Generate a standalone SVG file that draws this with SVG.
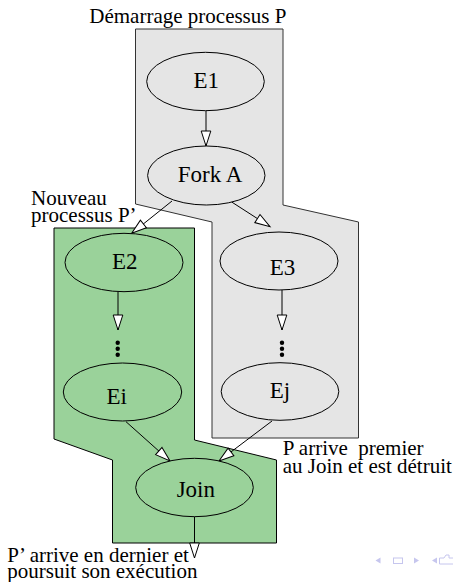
<svg xmlns="http://www.w3.org/2000/svg" width="453" height="582" viewBox="0 0 453 582">
<style>
text{font-family:'Liberation Serif','DejaVu Serif',serif;fill:#000}
.lbl{font-size:23px;text-anchor:middle}
.ann{font-size:21px;white-space:pre}
.node{stroke:#000;stroke-width:1}
.gn{fill:#9ad29a}
.gy{fill:#e5e5e5}
.edge{stroke:#000;stroke-width:1;fill:none;marker-end:url(#arr)}
.nav{fill:#c6c6ee}
</style>
<defs>
<marker id="arr" markerUnits="userSpaceOnUse" markerWidth="18" markerHeight="12" refX="16" refY="6" orient="auto">
<path d="M1,1.2 L16,6 L1,10.8 Z" fill="#fff" stroke="#000" stroke-width="1"/>
</marker>
</defs>
<g id="clusterP">
<polygon points="135.5,29 283,29 283,205 358.5,222 358.5,438 212,438 212,222 135.5,204" fill="#e5e5e5" stroke="#333" stroke-width="1"/>
</g>
<g id="clusterPprime">
<polygon points="54,228 194.5,228 194.5,440 276.5,460 276.5,543 112.5,543 112.5,460 54,439" fill="#9ad29a" stroke="#000" stroke-width="1"/>
</g>
<g id="edges">
<line class="edge" x1="206" y1="110.7" x2="206" y2="146"/>
<line class="edge" x1="172" y1="201" x2="131.7" y2="233.3"/>
<line class="edge" x1="231.7" y1="202" x2="270" y2="226.7"/>
<line class="edge" x1="118" y1="291.7" x2="118" y2="330"/>
<line class="edge" x1="282" y1="290" x2="282" y2="330"/>
<line class="edge" x1="126" y1="421.7" x2="170" y2="461"/>
<line class="edge" x1="272" y1="421" x2="219" y2="461"/>
<line class="edge" x1="194.5" y1="516.7" x2="194.5" y2="558"/>
</g>
<g id="E1"><ellipse class="node gy" cx="205.5" cy="81.5" rx="58.8" ry="29.2"/><text class="lbl" x="206.3" y="88.3">E1</text></g>
<g id="ForkA"><ellipse class="node gy" cx="206.3" cy="175.5" rx="58.7" ry="29.5"/><text class="lbl" x="210" y="181.7">Fork A</text></g>
<g id="E2"><ellipse class="node gn" cx="124" cy="262.5" rx="59" ry="29.2"/><text class="lbl" x="124.8" y="269">E2</text></g>
<g id="E3"><ellipse class="node gy" cx="279" cy="261" rx="59" ry="29"/><text class="lbl" x="282.5" y="275">E3</text></g>
<g id="dotsLeft"><circle cx="117.7" cy="342.7" r="2.2"/><circle cx="117.7" cy="348.7" r="2.2"/><circle cx="117.7" cy="354.7" r="2.2"/></g>
<g id="dotsRight"><circle cx="282" cy="342.7" r="2.2"/><circle cx="282" cy="348.7" r="2.2"/><circle cx="282" cy="354.7" r="2.2"/></g>
<g id="Ei"><ellipse class="node gn" cx="122.5" cy="392" rx="59.2" ry="29"/><text class="lbl" x="116.7" y="404">Ei</text></g>
<g id="Ej"><ellipse class="node gy" cx="280" cy="391.5" rx="58.8" ry="28.8"/><text class="lbl" x="280" y="398">Ej</text></g>
<g id="Join"><ellipse class="node gn" cx="194.5" cy="487.5" rx="58.8" ry="29.2"/><text class="lbl" x="195.8" y="496.7">Join</text></g>
<g id="annotations">
<text class="ann" x="89.3" y="23">Démarrage processus P</text>
<text class="ann" x="31" y="205">Nouveau<tspan x="31" dy="17.3">processus P’</tspan></text>
<text class="ann" x="282.7" y="455.3">P arrive  premier<tspan x="282.7" dy="17.4">au Join et est détruit</tspan></text>
<text class="ann" x="7.3" y="561.7">P’ arrive en dernier et<tspan x="7.3" dy="16.6">poursuit son exécution</tspan></text>
</g>
<g id="navigation">
<polygon class="nav" points="375.5,560.5 380.5,557.5 380.5,563.5"/>
<rect x="393.5" y="558" width="9" height="5.5" fill="none" stroke="#c6c6ee" stroke-width="1"/>
<polygon class="nav" points="419,560.5 414,557.5 414,563.5"/>
<polygon class="nav" points="432,560.5 437,557.5 437,563.5"/>
<path d="M439.5,564 L439.5,558 L444,558 L446,555 L449,555 L449,558 L453,558 M439.5,564 L453,564" fill="none" stroke="#c6c6ee" stroke-width="1"/>
</g>
</svg>
